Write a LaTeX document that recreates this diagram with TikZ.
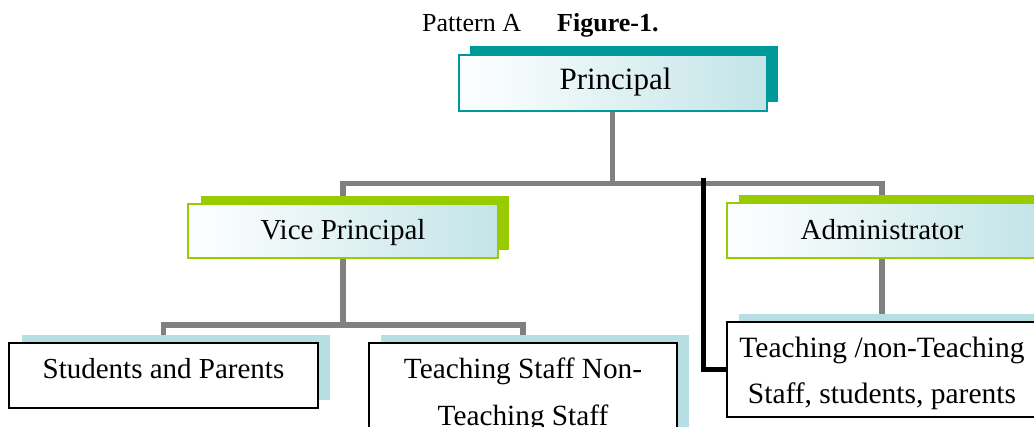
\documentclass[tikz,border=0pt]{standalone}
\usepackage{fontspec}
\setmainfont{Liberation Serif}
\definecolor{tealA}{RGB}{0,153,153}
\definecolor{greenA}{RGB}{153,204,0}
\definecolor{lblue}{RGB}{183,223,227}
\definecolor{connG}{RGB}{128,128,128}
\pgfdeclarehorizontalshading{boxsh}{100bp}{color(0bp)=(white); color(30bp)=(white!92!lblue); color(80bp)=(lblue!92!white); color(100bp)=(lblue!65!white)}
\pgfdeclarelayer{bg}
\pgfdeclarelayer{mid}
\pgfsetlayers{bg,mid,main}
\begin{document}
\begin{tikzpicture}[x=1pt,y=-1pt,
  box/.style={rectangle, inner sep=0pt, outer sep=0pt, line width=2pt},
  shadowbox/.style={rectangle, inner sep=0pt, outer sep=0pt, draw=none},
  gradbox/.style={box, shading=boxsh},
  plainbox/.style={box, draw=black, fill=white},
  boxtext/.style={inner sep=0pt, font=\fontsize{29}{45}\selectfont, align=center},
  titletext/.style={inner sep=0pt, anchor=base west, font=\fontsize{26}{30}\selectfont},
  gline/.style={draw=connG, line width=5.5pt},
  bline/.style={draw=black, line width=5pt}]
\useasboundingbox (0,0) rectangle (1034,427);
\clip (0,0) rectangle (1034,427);

% title
\node[titletext] (pat) at (422,32) {Pattern A};
\node[titletext, font=\fontsize{26}{30}\selectfont\bfseries] (fig) at (557,32) {Figure-1.};

% front boxes
\node[gradbox, draw=tealA, minimum width=308, minimum height=56] (pr) at (612.5,83) {};
\node[gradbox, draw=greenA, minimum width=310, minimum height=54] (vp) at (343,231) {};
\node[gradbox, draw=greenA, minimum width=310, minimum height=55] (ad) at (882,230.5) {};
\node[plainbox, minimum width=309, minimum height=65] (st) at (163.5,375.5) {};
\node[plainbox, minimum width=308, minimum height=121] (ts) at (523,403.5) {};
\node[plainbox, minimum width=310, minimum height=95] (tn) at (882,369.5) {};

% texts
\node[boxtext, anchor=base, font=\fontsize{31}{45}\selectfont] (prt) at (615.5,90) {Principal};
\node[boxtext, anchor=base] (vpt) at (343,240) {Vice Principal};
\node[boxtext, anchor=base] (adt) at (882,240) {Administrator};
\node[boxtext, anchor=base] (stt) at (163.5,379) {Students and Parents};
\node[boxtext, anchor=center, font=\fontsize{29.3}{47}\selectfont] (tst) at (523,394.75) {Teaching Staff Non-\\Teaching Staff};
\node[boxtext, anchor=center, font=\fontsize{29.5}{46}\selectfont] (tnt) at (882,373.25) {Teaching /non-Teaching\\Staff, students, parents};

% shadows
\begin{pgfonlayer}{mid}
\node[shadowbox, fill=tealA, minimum width=308, minimum height=56] (prs) at (623.5,74) {};
\node[shadowbox, fill=greenA, minimum width=308, minimum height=54] (vps) at (355,223) {};
\node[shadowbox, fill=greenA, minimum width=310, minimum height=55] (ads) at (894,222.5) {};
\node[shadowbox, fill=lblue, minimum width=308, minimum height=65] (sts) at (175.5,367.5) {};
\node[shadowbox, fill=lblue, minimum width=308, minimum height=121] (tss) at (535,395.5) {};
\node[shadowbox, fill=lblue, minimum width=310, minimum height=95] (tns) at (894,361.5) {};
\end{pgfonlayer}

% connectors
\begin{pgfonlayer}{bg}
\coordinate (b1) at (612.5,183.5);
\coordinate (b2) at (343,325);
\coordinate (bk) at (703,178);
\draw[gline] (pr.south) -- (b1);
\draw[gline] (vp.north) |- (b1) -| (ad.north);
\draw[gline] (vp.south) -- (b2);
\draw[gline] (st.north) |- (b2) -| (ts.north);
\draw[gline] (ad.south) -- (tn.north);
\draw[bline] (bk) |- (tn.west);
\end{pgfonlayer}
\end{tikzpicture}
\end{document}
